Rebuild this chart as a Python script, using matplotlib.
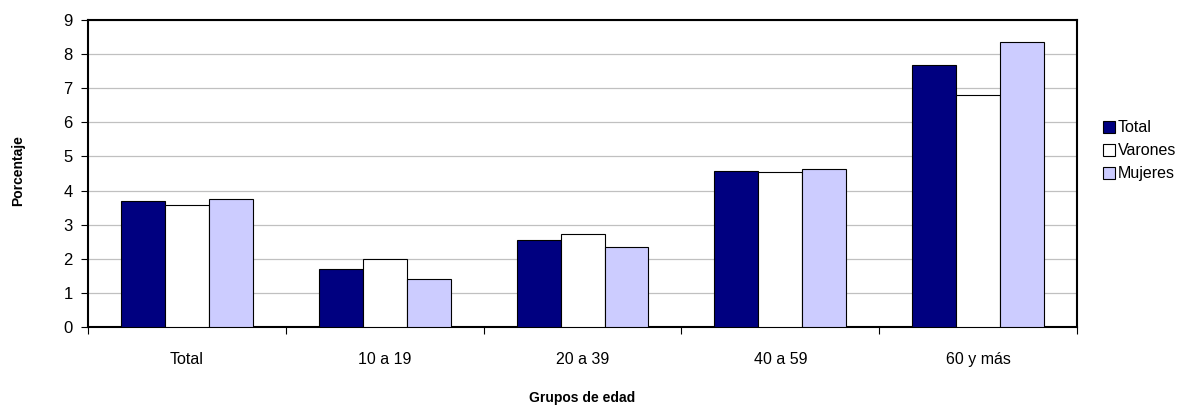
import numpy as np
import matplotlib
matplotlib.use('Agg')
from matplotlib import pyplot as plt

plt.rcParams['font.family'] = ['Liberation Sans', 'DejaVu Sans']

grupos = ['Total', '10 a 19', '20 a 39', '40 a 59', '60 y más']
total = [3.69, 1.70, 2.55, 4.58, 7.69]
varones = [3.58, 1.99, 2.74, 4.54, 6.81]
mujeres = [3.76, 1.41, 2.34, 4.62, 8.36]

fig = plt.figure(figsize=(11.81, 4.05), dpi=100)
ax = fig.add_axes([0.0745, 0.1926, 0.8375, 0.758])

x = np.arange(len(grupos))
w = 1 / 4.5
ax.bar(x - w, total, w, color='#000080', edgecolor='black', linewidth=0.8, label='Total', zorder=3)
ax.bar(x, varones, w, color='white', edgecolor='black', linewidth=0.8, label='Varones', zorder=3)
ax.bar(x + w, mujeres, w, color='#ccccff', edgecolor='black', linewidth=0.8, label='Mujeres', zorder=3)

ax.set_xlim(-0.5, len(grupos) - 0.5)
ax.set_ylim(0, 9)
ax.set_yticks(range(10))
ax.yaxis.grid(True, color='#c0c0c0', linewidth=0.9, zorder=0)
ax.set_xticks(x)
ax.set_xticklabels(grupos, fontsize=11.5)
ax.tick_params(axis='x', length=0, pad=18)
ax.tick_params(axis='y', labelsize=12, length=5, width=0.8, pad=6)
# ticks between groups
ax.set_xticks(np.arange(-0.5, len(grupos)), minor=True)
ax.tick_params(axis='x', which='minor', length=5, width=0.8)

for s in ax.spines.values():
    s.set_linewidth(1.5)

ax.set_ylabel('Porcentaje', fontsize=10, fontweight='bold', va='center')
ax.yaxis.set_label_coords(-0.071, 0.51)
ax.set_xlabel('Grupos de edad', fontsize=10, fontweight='bold', va='center')
ax.xaxis.set_label_coords(0.5, -0.23)

ax.legend(loc='center left', bbox_to_anchor=(1.018, 0.574), frameon=False, fontsize=11.5,
          handlelength=0.75, handleheight=0.75, handletextpad=0.2, labelspacing=0.5,
          borderpad=0)

fig.savefig('out.png', dpi=100)
